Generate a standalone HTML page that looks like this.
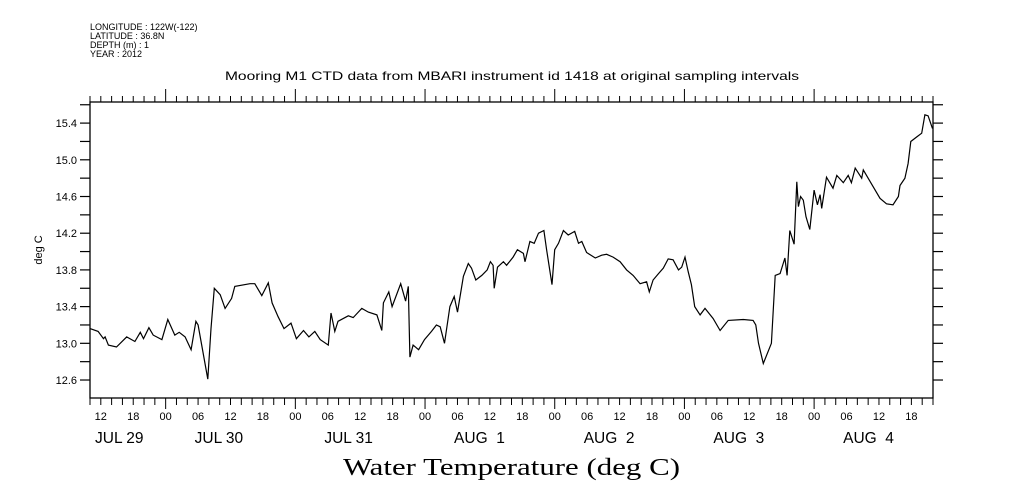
<!DOCTYPE html>
<html><head><meta charset="utf-8"><style>
html,body{margin:0;padding:0;background:#fff;}
svg{display:block;font-family:"Liberation Sans",sans-serif;}
</style></head><body>
<svg id="chart" width="1009" height="504" viewBox="0 0 1009 504" xmlns="http://www.w3.org/2000/svg">
<g font-size="9" fill="#000">
<text x="90" y="30">LONGITUDE : 122W(-122)</text>
<text x="90" y="39">LATITUDE : 36.8N</text>
<text x="90" y="48">DEPTH (m) : 1</text>
<text x="90" y="57">YEAR : 2012</text>
</g>
<text x="512" y="80" font-size="12" text-anchor="middle" textLength="574" lengthAdjust="spacingAndGlyphs">Mooring M1 CTD data from MBARI instrument id 1418 at original sampling intervals</text>
<text transform="translate(42,250) rotate(-90)" font-size="11" text-anchor="middle">deg C</text>
<text x="343" y="475" font-family="Liberation Serif, serif" font-size="24" textLength="337" lengthAdjust="spacingAndGlyphs">Water Temperature (deg C)</text>
<g id="axes"></g>
<g id="series"></g>
</svg>
<script>
const hours = [10.0,11.5,12.5,12.8,13.4,14.9,16.8,18.3,19.3,19.9,20.9,21.7,23.3,24.4,25.7,26.5,27.6,28.7,29.6,30.0,31.8,32.4,33.0,34.1,35.0,36.2,36.8,39.6,40.5,41.8,43.0,43.7,44.8,45.9,47.2,48.2,49.5,50.5,51.6,52.6,54.1,54.6,55.3,55.9,57.8,58.7,60.3,61.5,63.1,64.0,64.3,65.3,65.9,67.5,68.4,68.9,69.2,69.8,70.8,71.9,73.2,74.1,74.8,75.6,76.6,77.4,78.0,79.1,80.0,80.6,81.4,82.5,83.5,84.1,84.6,84.8,85.4,86.5,87.1,88.3,89.1,90.2,90.5,91.4,92.2,93.0,94.0,94.5,95.5,96.0,96.7,97.6,98.5,99.7,100.4,101.0,101.9,103.5,104.7,105.6,106.8,108.1,109.3,110.5,111.8,113.0,113.5,114.2,115.2,116.1,117.0,117.9,118.9,119.5,120.1,120.7,121.3,121.9,122.9,123.8,125.3,126.6,128.1,130.9,132.7,133.2,133.7,134.6,136.1,136.8,137.7,138.6,139.0,139.5,140.3,140.8,141.1,141.5,142.0,142.5,143.2,144.0,144.6,145.1,145.4,146.3,147.5,148.2,149.4,150.3,150.9,151.6,152.8,153.1,154.9,156.2,157.4,158.6,159.6,159.9,160.8,161.4,161.9,163.0,163.9,164.5,165.1,165.9];
const temps = [13.16,13.13,13.05,13.07,12.98,12.96,13.07,13.02,13.12,13.05,13.17,13.09,13.04,13.26,13.09,13.12,13.07,12.93,13.24,13.20,12.61,13.16,13.60,13.53,13.38,13.49,13.62,13.65,13.65,13.52,13.66,13.44,13.29,13.16,13.22,13.05,13.14,13.07,13.13,13.04,12.98,13.33,13.13,13.24,13.30,13.28,13.38,13.34,13.31,13.14,13.44,13.56,13.40,13.65,13.46,13.62,12.85,12.98,12.93,13.04,13.13,13.20,13.18,13.00,13.40,13.51,13.34,13.73,13.87,13.82,13.69,13.74,13.80,13.89,13.85,13.60,13.83,13.89,13.85,13.94,14.02,13.98,13.89,14.11,14.09,14.20,14.23,14.02,13.64,14.02,14.09,14.23,14.18,14.22,14.09,14.11,13.99,13.93,13.96,13.97,13.94,13.89,13.80,13.74,13.65,13.67,13.56,13.69,13.76,13.82,13.92,13.91,13.80,13.83,13.94,13.78,13.64,13.40,13.31,13.38,13.27,13.14,13.25,13.26,13.25,13.20,13.00,12.78,13.00,13.74,13.76,13.93,13.74,14.23,14.08,14.76,14.49,14.60,14.56,14.38,14.24,14.67,14.51,14.62,14.47,14.81,14.69,14.83,14.75,14.83,14.75,14.91,14.80,14.89,14.71,14.58,14.52,14.51,14.60,14.72,14.80,14.96,15.20,15.25,15.29,15.49,15.48,15.34];
const yTickValues = [12.6,13.0,13.4,13.8,14.2,14.6,15.0,15.4];
const yTickLabels = ["12.6","13.0","13.4","13.8","14.2","14.6","15.0","15.4"];
const dayLabels = ["JUL 29","JUL 30","JUL 31","AUG  1","AUG  2","AUG  3","AUG  4"];

const L=90,R=933,T=102,B=398, H0=10,H1=166, V0=12.404,V1=15.63;
const xs=h=>L+(h-H0)*(R-L)/(H1-H0);
const ys=v=>B-(v-V0)*(B-T)/(V1-V0);
const NS="http://www.w3.org/2000/svg";
const ax=document.getElementById('axes');
function mk(tag,attrs,parent){const e=document.createElementNS(NS,tag);for(const k in attrs)e.setAttribute(k,attrs[k]);parent.appendChild(e);return e;}

const frame=mk('rect',{x:L,y:T,width:R-L,height:B-T,fill:'none',stroke:'#000','stroke-width':1.3},ax);



for(let v=12.6;v<=15.61;v+=0.2){
  const y=ys(v);
  const t1=mk('line',{x1:L-10,x2:L,y1:y,y2:y,stroke:'#000','stroke-width':1.2},ax);
  
  
  const t2=mk('line',{x1:R,x2:R+10,y1:y,y2:y,stroke:'#000','stroke-width':1.2},ax);
  
  
}
yTickValues.forEach((v,i)=>{
  const t=mk('text',{x:L-13,y:ys(v)+4,'font-size':11,'text-anchor':'end'},ax);
  t.textContent=yTickLabels[i];
  
  
});
for(let h=10;h<=166;h+=2){
  const x=xs(h), major=(h%24===0);
  const b=mk('line',{x1:x,x2:x,y1:B,y2:B+(major?11:7),stroke:'#000','stroke-width':1},ax);
  
  
  const t=mk('line',{x1:x,x2:x,y1:T,y2:T-(major?13:6),stroke:'#000','stroke-width':1},ax);
  
  
  if(h%6===0){
    const lb=mk('text',{x:x,y:420,'font-size':11,'text-anchor':'middle'},ax);
    lb.textContent=String(h%24).padStart(2,'0');
    
    
  }
}
dayLabels.forEach((d,i)=>{
  const x=Math.max(95,xs(i*24)+29);
  const t=mk('text',{x:x,y:443,'font-size':15.5,'xml:space':'preserve'},ax);
  t.style.whiteSpace='pre';
  t.textContent=d;
  
  
});
const pts=hours.map((h,i)=>xs(h).toFixed(1)+','+ys(temps[i]).toFixed(1)).join(' ');
const line=mk('polyline',{points:pts,fill:'none',stroke:'#000','stroke-width':1.2,'stroke-linejoin':'miter'},document.getElementById('series'));


</script>
</body></html>
